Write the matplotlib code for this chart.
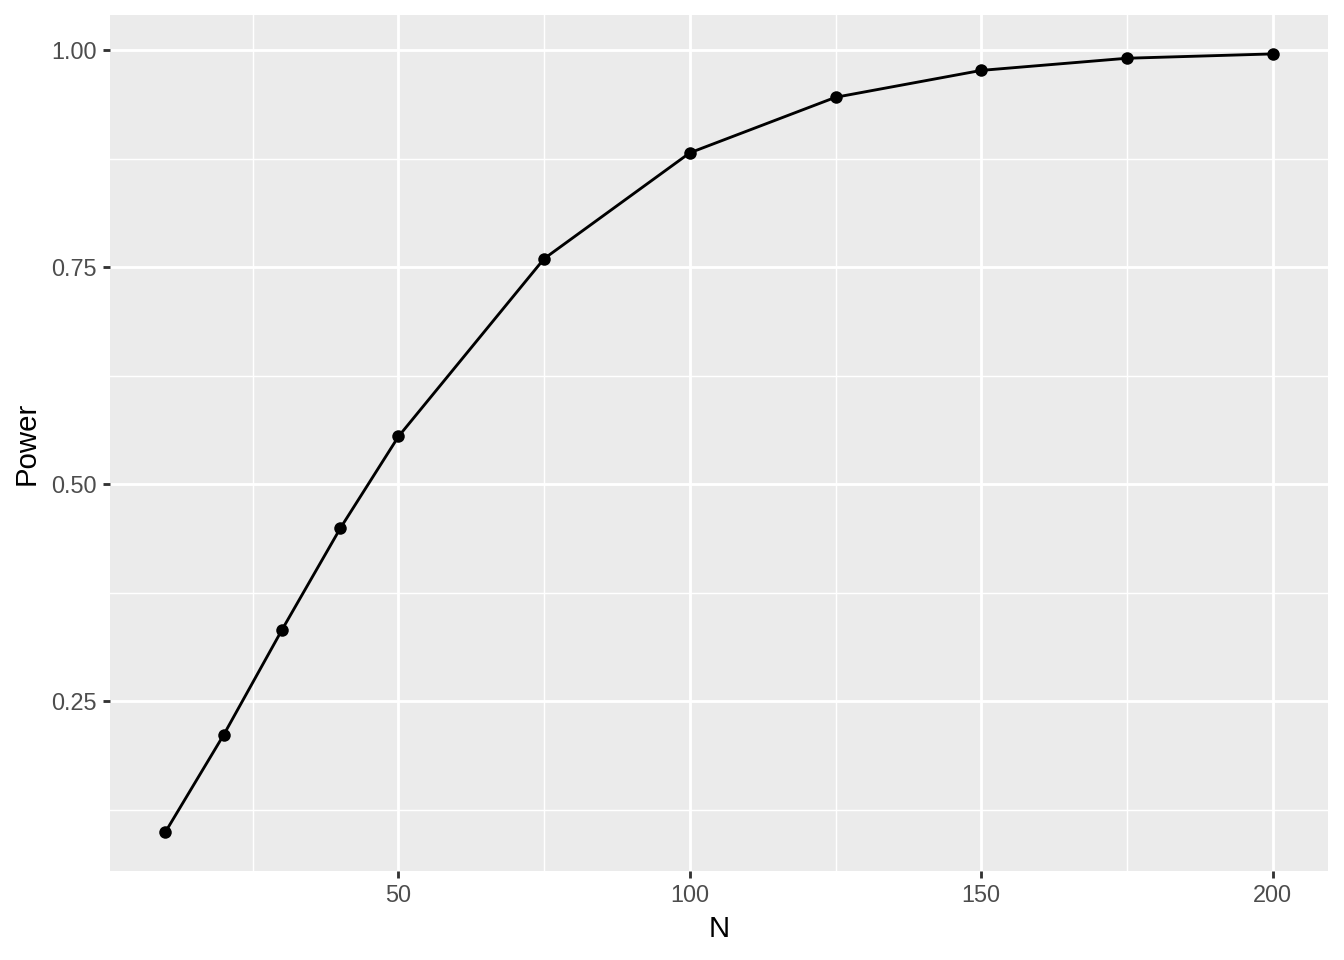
import matplotlib
matplotlib.use("Agg")
import matplotlib.pyplot as plt
from matplotlib.ticker import FixedLocator

N = [10, 20, 30, 40, 50, 75, 100, 125, 150, 175, 200]
power = [0.099, 0.211, 0.332, 0.449, 0.555, 0.760, 0.882, 0.946, 0.977, 0.991, 0.996]

x_major = [50, 100, 150, 200]
x_minor = [25, 75, 125, 175]
y_major = [0.25, 0.50, 0.75, 1.00]
y_minor = [0.125, 0.375, 0.625, 0.875]
y_labels = ["0.25", "0.50", "0.75", "1.00"]

plt.rcParams['font.family'] = ['Liberation Sans', 'DejaVu Sans']

fig = plt.figure(figsize=(7, 5), dpi=192)
ax = fig.add_axes([110/1344, 1 - 871/960, (1328-110)/1344, (871-15)/960])
ax.set_facecolor('#EBEBEB')
for s in ax.spines.values():
    s.set_visible(False)

xr = max(N) - min(N)
ax.set_xlim(min(N) - 0.05*xr, max(N) + 0.05*xr)
yr = max(power) - min(power)
ax.set_ylim(min(power) - 0.05*yr, max(power) + 0.05*yr)

ax.xaxis.set_major_locator(FixedLocator(x_major))
ax.xaxis.set_minor_locator(FixedLocator(x_minor))
ax.yaxis.set_major_locator(FixedLocator(y_major))
ax.yaxis.set_minor_locator(FixedLocator(y_minor))
ax.set_yticklabels(y_labels)

ax.grid(which='major', color='white', linewidth=1.07)
ax.grid(which='minor', color='white', linewidth=0.53)
ax.set_axisbelow(True)

ax.tick_params(which='major', length=2.75, width=1.07, color='#333333',
               labelsize=8.8, labelcolor='#4D4D4D', pad=2.2)
ax.tick_params(which='minor', length=0)

ax.plot(N, power, color='black', linewidth=1.07, zorder=3)
ax.scatter(N, power, color='black', s=22, zorder=4, linewidths=0)

ax.set_xlabel('N', fontsize=11, color='black', labelpad=3)
ax.set_ylabel('Power', fontsize=11, color='black', labelpad=4)

fig.savefig('out.png', dpi=192)
